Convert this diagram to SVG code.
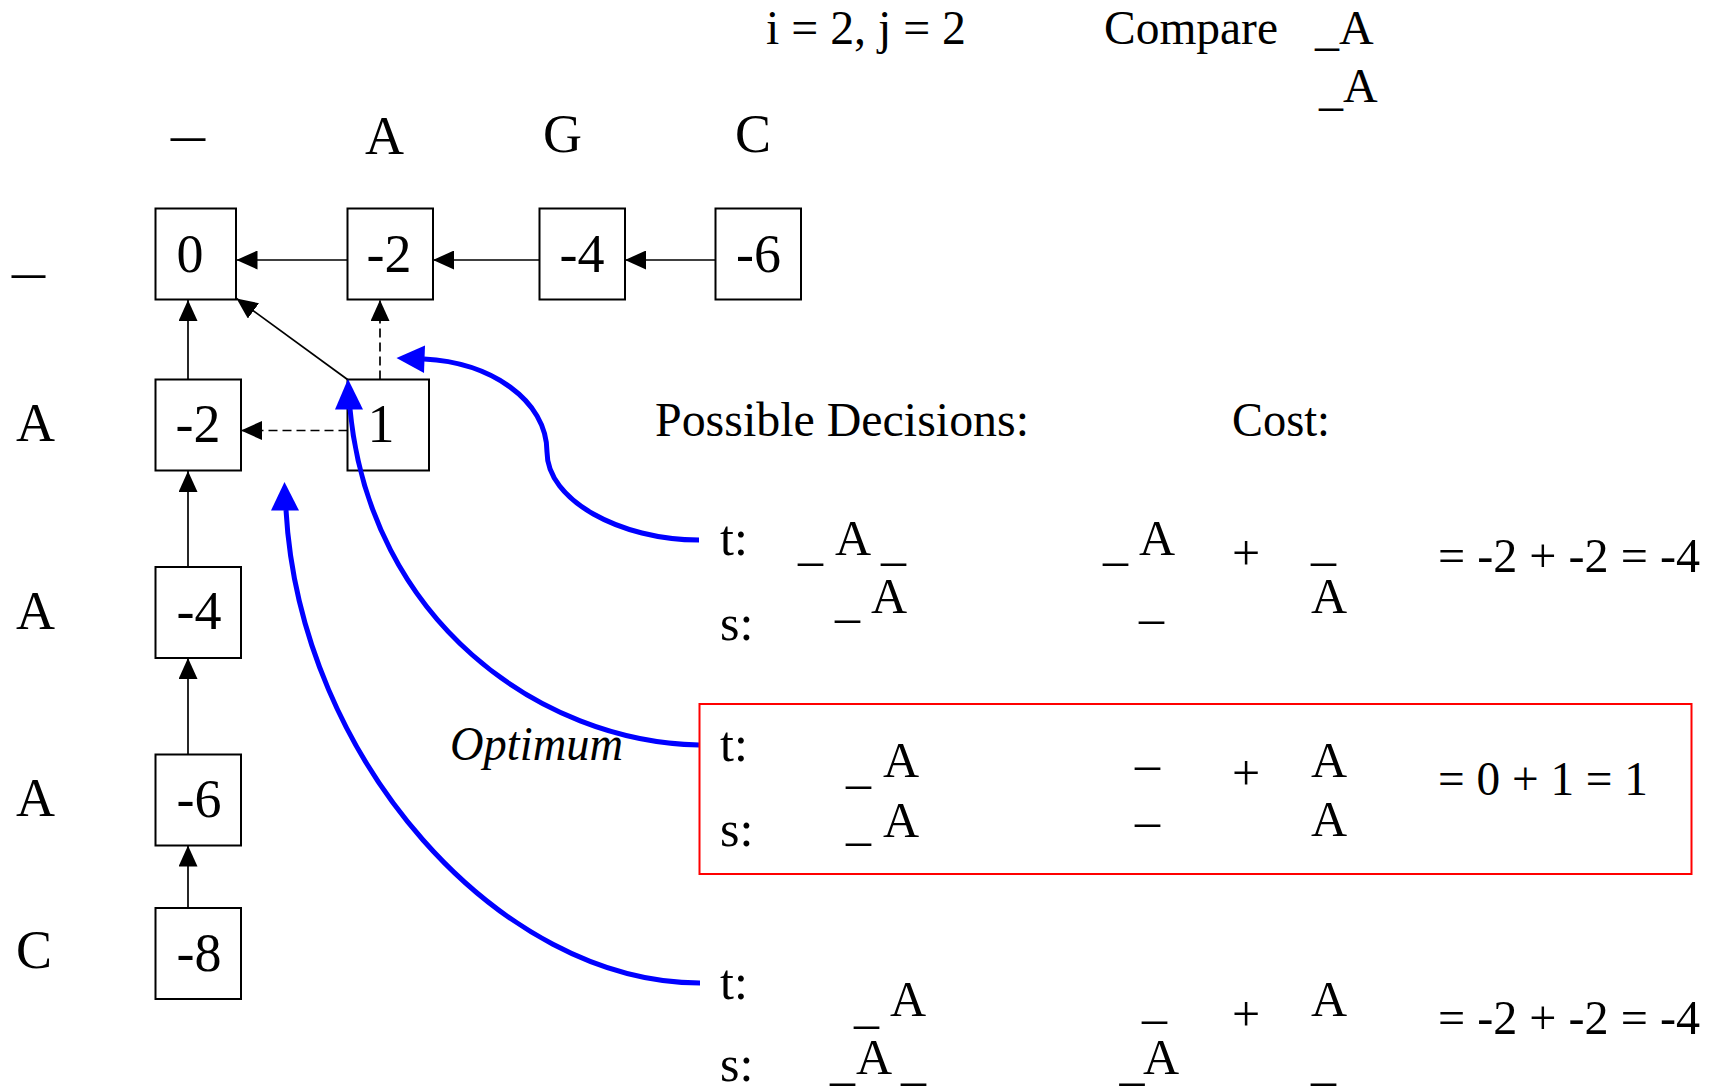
<svg xmlns="http://www.w3.org/2000/svg" width="1717" height="1089" viewBox="0 0 1717 1089">
<style>
text{font-family:"Liberation Serif","Times New Roman",serif;fill:#000}
.t48{font-size:48px}
.t50{font-size:50px}
.t54{font-size:54px}
.num{font-size:54px;text-anchor:middle}
.cell{fill:#fff;stroke:#000;stroke-width:2}
.ln{fill:none;stroke:#000;stroke-width:1.7}
.dash{stroke-dasharray:9,5}
.blue{fill:none;stroke:#0000ff;stroke-width:5}
.bhead{fill:#0000ff}
.it{font-style:italic}
</style>
<defs>
<marker id="ah" markerUnits="userSpaceOnUse" markerWidth="21" markerHeight="19" viewBox="0 0 21 19" refX="21" refY="9.5" orient="auto">
<path d="M0,0 L21,9.5 L0,19 z" fill="#000"/>
</marker>
</defs>
<rect x="0" y="0" width="1717" height="1089" fill="#fff"/>

<g id="header">
<text class="t48" x="766" y="43.5" textLength="200" lengthAdjust="spacingAndGlyphs">i = 2, j = 2</text>
<text class="t48" x="1104" y="43.5" textLength="174" lengthAdjust="spacingAndGlyphs">Compare</text>
<text class="t48" x="1315" y="45">_</text>
<text class="t48" x="1339" y="43.5">A</text>
<text class="t48" x="1319" y="105">_</text>
<text class="t48" x="1343" y="101.5">A</text>
</g>

<g id="col-labels">
<text class="t54" x="171" y="134" textLength="34" lengthAdjust="spacingAndGlyphs">_</text>
<text class="t54" x="365" y="154">A</text>
<text class="t54" x="543" y="152">G</text>
<text class="t54" x="735" y="152">C</text>
</g>

<g id="row-labels">
<text class="t54" x="12" y="271" textLength="33" lengthAdjust="spacingAndGlyphs">_</text>
<text class="t54" x="16" y="441">A</text>
<text class="t54" x="16" y="629">A</text>
<text class="t54" x="16" y="816">A</text>
<text class="t54" x="16" y="968">C</text>
</g>

<g id="cell-0-0"><rect class="cell" x="155.5" y="208.5" width="80.5" height="91"/><text class="num" x="190" y="272">0</text></g>
<g id="cell-0-1"><rect class="cell" x="347.5" y="208.5" width="85.5" height="91"/><text class="num" x="389" y="272">-2</text></g>
<g id="cell-0-2"><rect class="cell" x="539.5" y="208.5" width="85.5" height="91"/><text class="num" x="582" y="272">-4</text></g>
<g id="cell-0-3"><rect class="cell" x="715.5" y="208.5" width="85.5" height="91"/><text class="num" x="758.5" y="272">-6</text></g>
<g id="cell-1-0"><rect class="cell" x="155.5" y="379.5" width="85.5" height="91"/><text class="num" x="198" y="442">-2</text></g>
<g id="cell-1-1"><rect class="cell" x="347.5" y="379.5" width="81.5" height="91"/><text class="num" x="381" y="442">1</text></g>
<g id="cell-2-0"><rect class="cell" x="155.5" y="567" width="85.5" height="91"/><text class="num" x="199" y="629">-4</text></g>
<g id="cell-3-0"><rect class="cell" x="155.5" y="754.5" width="85.5" height="91"/><text class="num" x="199" y="817">-6</text></g>
<g id="cell-4-0"><rect class="cell" x="155.5" y="908" width="85.5" height="91"/><text class="num" x="199" y="971">-8</text></g>

<g id="connectors">
<path class="ln" d="M347.5,260 L236.5,260" marker-end="url(#ah)"/>
<path class="ln" d="M539.5,260 L433,260" marker-end="url(#ah)"/>
<path class="ln" d="M715.5,260 L625,260" marker-end="url(#ah)"/>
<path class="ln" d="M188,379.5 L188,300" marker-end="url(#ah)"/>
<path class="ln" d="M188,567 L188,471" marker-end="url(#ah)"/>
<path class="ln" d="M188,754.5 L188,658" marker-end="url(#ah)"/>
<path class="ln" d="M188,908 L188,845.5" marker-end="url(#ah)"/>
<path class="ln" d="M347.5,379.5 L236.5,298.5" marker-end="url(#ah)"/>
<path class="ln dash" d="M380,379.5 L380,300" marker-end="url(#ah)"/>
<path class="ln dash" d="M347.5,430.5 L241,430.5" marker-end="url(#ah)"/>
<path class="blue" d="M699,540 C620,540 547,500 547,452 C547,400 490,362 424,359"/>
<polygon class="bhead" points="396.5,358 425,345.5 424,373"/>
<path class="blue" d="M699,745 C540,742 370,620 350,409"/>
<polygon class="bhead" points="348,379 335,409.5 363,409.5"/>
<path class="blue" d="M700,983 C500,983 300,760 286,510"/>
<polygon class="bhead" points="284.5,482 271,510.5 299,510.5"/>
</g>

<g id="titles">
<text class="t48" x="655" y="436" textLength="374" lengthAdjust="spacingAndGlyphs">Possible Decisions:</text>
<text class="t48" x="1232" y="436" textLength="98" lengthAdjust="spacingAndGlyphs">Cost:</text>
<text class="t48 it" x="450" y="760" textLength="173" lengthAdjust="spacingAndGlyphs">Optimum</text>
</g>

<g id="decision-1">
<text class="t50" x="720" y="555">t:</text>
<text class="t50" x="720" y="640">s:</text>
<text class="t50" x="798" y="559">_</text>
<text class="t50" x="835" y="555">A</text>
<text class="t50" x="881" y="559">_</text>
<text class="t50" x="835" y="616">_</text>
<text class="t50" x="871" y="613">A</text>
<text class="t50" x="1103" y="559">_</text>
<text class="t50" x="1139" y="555">A</text>
<text class="t50" x="1139" y="617">_</text>
<text class="t50" x="1232" y="569.5">+</text>
<text class="t50" x="1311" y="559">_</text>
<text class="t50" x="1311" y="613">A</text>
<text class="t48" x="1438" y="572" textLength="262" lengthAdjust="spacingAndGlyphs">= -2 + -2 = -4</text>
</g>

<g id="decision-2">
<rect x="699.5" y="704" width="992" height="170" fill="none" stroke="#ff0000" stroke-width="2"/>
<text class="t50" x="720" y="761">t:</text>
<text class="t50" x="720" y="846">s:</text>
<text class="t50" x="846" y="782">_</text>
<text class="t50" x="883" y="777">A</text>
<text class="t50" x="846" y="839">_</text>
<text class="t50" x="883" y="837">A</text>
<text class="t50" x="1135" y="763">_</text>
<text class="t50" x="1135" y="820">_</text>
<text class="t50" x="1232" y="790">+</text>
<text class="t50" x="1311" y="777">A</text>
<text class="t50" x="1311" y="836">A</text>
<text class="t48" x="1438" y="795" textLength="210" lengthAdjust="spacingAndGlyphs">= 0 + 1 = 1</text>
</g>

<g id="decision-3">
<text class="t50" x="720" y="999">t:</text>
<text class="t50" x="720" y="1081">s:</text>
<text class="t50" x="854" y="1021.5">_</text>
<text class="t50" x="890" y="1016">A</text>
<text class="t50" x="830" y="1079">_</text>
<text class="t50" x="856" y="1074">A</text>
<text class="t50" x="901" y="1079">_</text>
<text class="t50" x="1142" y="1017">_</text>
<text class="t50" x="1119.5" y="1079">_</text>
<text class="t50" x="1143" y="1074">A</text>
<text class="t50" x="1232" y="1030.5">+</text>
<text class="t50" x="1311" y="1016">A</text>
<text class="t50" x="1311" y="1079">_</text>
<text class="t48" x="1438" y="1034" textLength="262" lengthAdjust="spacingAndGlyphs">= -2 + -2 = -4</text>
</g>
</svg>
